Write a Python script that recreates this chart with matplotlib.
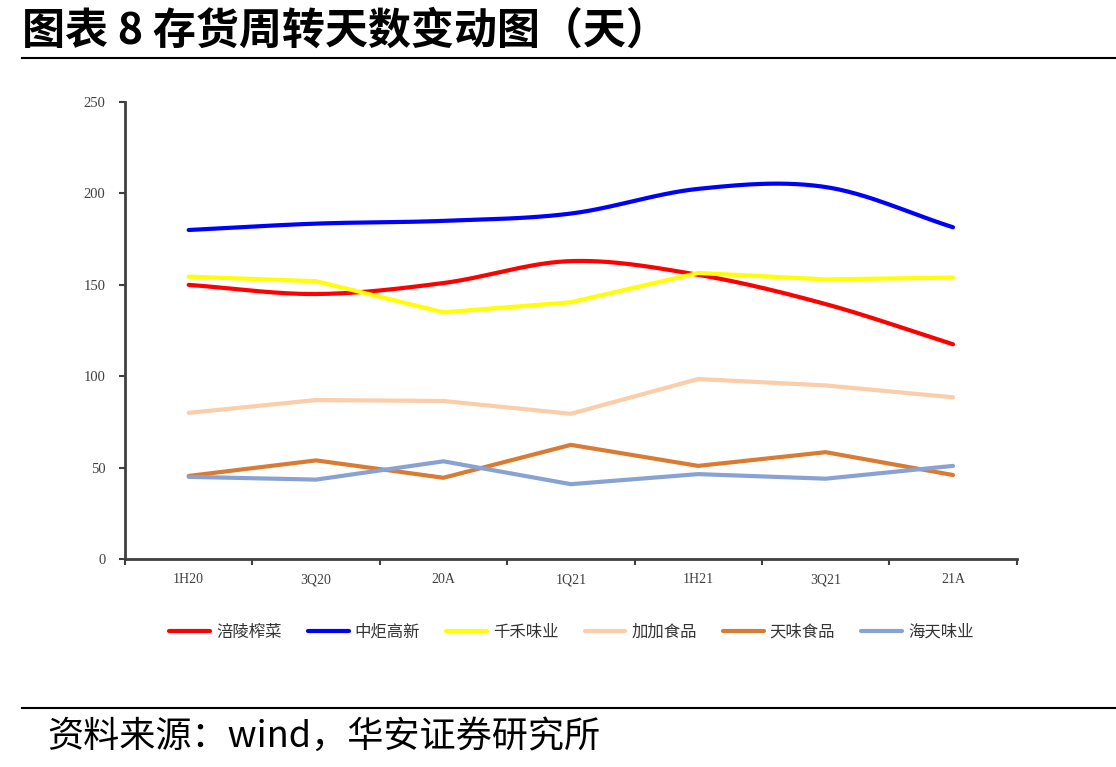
import numpy as np
import matplotlib
matplotlib.use("Agg")
import matplotlib.pyplot as plt
from matplotlib.lines import Line2D

plt.rcParams['font.family'] = ['Noto Sans CJK SC', 'DejaVu Sans']

categories = ["1H20", "3Q20", "20A", "1Q21", "1H21", "3Q21", "21A"]
fuling = [150, 145, 151, 163, 155.5, 139.5, 117.5]      # 涪陵榨菜 (smoothed)
zhongju = [180, 183.5, 185, 189, 202.5, 203.5, 181.5]   # 中炬高新 (smoothed)
qianhe = [154.5, 152, 135, 140.5, 156.5, 153, 154]      # 千禾味业
jiajia = [80, 87, 86.5, 79.5, 98.5, 95, 88.5]           # 加加食品
tianwei = [45.5, 54, 44.5, 62.5, 51, 58.5, 46]          # 天味食品
haitian = [45, 43.5, 53.5, 41, 46.5, 44, 51]            # 海天味业

series_names = ["涪陵榨菜", "中炬高新", "千禾味业", "加加食品", "天味食品", "海天味业"]
series_values = [fuling, zhongju, qianhe, jiajia, tianwei, haitian]
series_colors = ["#FF0000", "#0000FF", "#FFFF00", "#FBCDA8", "#D97B33", "#88A3D3"]
series_smooth = [True, True, False, False, False, False]
yticks = [0, 50, 100, 150, 200, 250]


def smooth_curve(x, y, n=30):
    # Catmull-Rom style rendering of the line through the data points
    x = np.asarray(x, float)
    y = np.asarray(y, float)
    px = np.concatenate([[2 * x[0] - x[1]], x, [2 * x[-1] - x[-2]]])
    py = np.concatenate([[2 * y[0] - y[1]], y, [2 * y[-1] - y[-2]]])
    xs, ys = [], []
    for i in range(1, len(px) - 2):
        t = np.linspace(0, 1, n, endpoint=(i == len(px) - 3))
        p0, p1, p2, p3 = py[i - 1], py[i], py[i + 1], py[i + 2]
        q0, q1, q2, q3 = px[i - 1], px[i], px[i + 1], px[i + 2]
        t2, t3 = t * t, t * t * t
        ys.append(0.5 * ((2 * p1) + (-p0 + p2) * t + (2 * p0 - 5 * p1 + 4 * p2 - p3) * t2 + (-p0 + 3 * p1 - 3 * p2 + p3) * t3))
        xs.append(0.5 * ((2 * q1) + (-q0 + q2) * t + (2 * q0 - 5 * q1 + 4 * q2 - q3) * t2 + (-q0 + 3 * q1 - 3 * q2 + q3) * t3))
    return np.concatenate(xs), np.concatenate(ys)


fig = plt.figure(figsize=(11.16, 7.67), dpi=100)
ax = fig.add_axes([0.112, 0.271, 0.799, 0.596])

x = np.arange(len(categories))
for name, vals, col, sm in zip(series_names, series_values, series_colors, series_smooth):
    if sm:
        xs, ys = smooth_curve(x, vals)
        ax.plot(xs, ys, color=col, lw=3, solid_capstyle='round', label=name)
    else:
        ax.plot(x, vals, color=col, lw=3, solid_capstyle='round', solid_joinstyle='miter', label=name)

ax.set_xlim(-0.5, len(categories) - 0.5)
ax.set_ylim(0, 250)
ax.set_yticks(yticks)
ax.set_yticklabels([str(v) for v in yticks], fontfamily='Liberation Serif', fontsize=10.5, color='#404040')
ax.set_xticks(x)
ax.set_xticklabels(categories, fontfamily='Liberation Serif', fontsize=10, color='#404040')
ax.set_xticks(np.arange(-0.5, len(categories) + 0.5, 1), minor=True)
ax.tick_params(axis='x', which='major', length=0, pad=10)
ax.tick_params(axis='x', which='minor', length=4, width=1.5, color='#404040', direction='out')
ax.tick_params(axis='y', length=4, width=1.5, color='#404040', direction='out', pad=10)
for s in ['top', 'right']:
    ax.spines[s].set_visible(False)
for s in ['left', 'bottom']:
    ax.spines[s].set_color('#404040')
    ax.spines[s].set_linewidth(2)

handles = [Line2D([0], [0], color=c, lw=3, solid_capstyle='round') for c in series_colors]
fig.legend(handles, series_names, loc='center', bbox_to_anchor=(0.512, 0.176), ncol=6,
           frameon=False, fontsize=11.8, handlelength=2.5, handletextpad=0.35, columnspacing=1.6,
           labelcolor='#333333')

# title and source
fig.text(0.02, 0.96, "图表 8 存货周转天数变动图（天）", fontsize=31, fontweight='bold',
         va='center', ha='left', color='black')
fig.add_artist(Line2D([0.02, 1.0], [0.925, 0.925], color='black', lw=1.5))
fig.add_artist(Line2D([0.02, 1.0], [0.077, 0.077], color='black', lw=1.5))
fig.text(0.042, 0.04, "资料来源：wind，华安证券研究所", fontsize=26, va='center', ha='left', color='black')

fig.savefig("out.png", dpi=100)
